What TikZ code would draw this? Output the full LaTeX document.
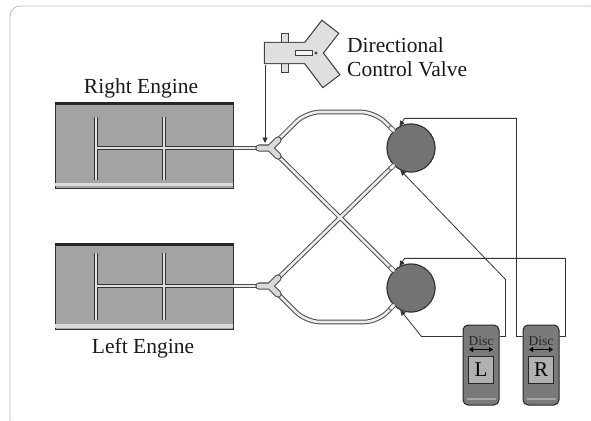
\documentclass[tikz,border=0pt]{standalone}
\usepackage{fontspec}
\setmainfont{Liberation Serif}
\usepackage{tikz}
\usetikzlibrary{arrows.meta,positioning,calc}

\begin{document}
\begin{tikzpicture}[
    x=1pt, y=-1pt,
    >={Triangle[length=5.5pt,width=5pt]},
    label/.style={
        font=\fontsize{21.5}{24}\selectfont,
        text=black!90,
        inner sep=0pt
    },
    engine/.style={
        draw=black!80,
        fill=gray!72,
        line width=0.8pt,
        minimum width=178pt,
        minimum height=86pt,
        inner sep=0pt
    },
    pipe/.style={
        draw=black!70,
        double=gray!15,
        double distance=2.6pt,
        line width=1pt
    },
    manifold/.style={
        draw=black!80,
        double=gray!25,
        double distance=1.8pt,
        line width=1pt
    },
    joint/.style={
        draw=black!70,
        double=gray!30,
        double distance=5pt,
        line width=1.1pt,
        line cap=round
    },
    stub/.style={
        draw=black!60,
        double=gray!8,
        double distance=3pt,
        line width=0.8pt,
        line cap=round
    },
    drum/.style={
        circle,
        draw=black!80,
        fill=black!55,
        line width=1pt,
        minimum size=48pt,
        inner sep=0pt
    },
    valvebody/.style={
        draw=black!75,
        double=gray!25,
        double distance=20pt,
        line width=1.2pt,
        line cap=rect
    },
    discbox/.style={
        draw=black!85,
        fill=black!52,
        rounded corners=5pt,
        line width=1pt,
        minimum width=36pt,
        minimum height=80pt,
        inner sep=0pt
    },
    disckey/.style={
        draw=black!85,
        fill=gray!62,
        line width=0.8pt,
        minimum width=25pt,
        minimum height=27pt,
        inner sep=0pt,
        font=\fontsize{21}{21}\selectfont
    },
    disctext/.style={
        font=\fontsize{13.5}{14}\selectfont,
        text=black!85,
        inner sep=0pt
    },
    wire/.style={draw=black!80, line width=0.8pt}
]

\useasboundingbox (0,0) rectangle (591,420);
\fill[white] (0,0) rectangle (591,420);

% outer frame
\draw[gray!50, line width=0.8pt, rounded corners=10pt] (10,6) rectangle (600,430);

% ============================================================
% Engines
% ============================================================

\node[engine] (reng) at (144,145) {};
\node[engine] (leng) at (144,286.5) {};

\draw[black!85, line width=3pt]
    ([yshift=-1.5pt]reng.north west) -- ([yshift=-1.5pt]reng.north east);
\draw[black!85, line width=3pt]
    ([yshift=-1.5pt]leng.north west) -- ([yshift=-1.5pt]leng.north east);

\fill[gray!30]
    ([shift={(0.6pt,2pt)}]reng.south west) rectangle ([shift={(-0.6pt,5.5pt)}]reng.south east);
\fill[gray!30]
    ([shift={(0.6pt,2pt)}]leng.south west) rectangle ([shift={(-0.6pt,5.5pt)}]leng.south east);

\node[label, anchor=base] (rlabel) at (141,93) {Right Engine};
\node[label, anchor=base] (llabel) at (143,353) {Left Engine};

% ============================================================
% Fuel lines
% ============================================================

\coordinate (ry) at (270,148);
\coordinate (ly) at (270,286);

\node[drum] (upc) at (411,148) {};
\node[drum] (lwc) at (411,288) {};

% manifold inside each engine
\draw[manifold]
    (96,117) -- (96,180)
    (164,117) -- (164,180)
    (96,148) -- (233,148);
\draw[manifold]
    (96,253) -- (96,320)
    (164,253) -- (164,320)
    (96,286) -- (233,286);

% crossfeed lines
\draw[pipe] (233,148) -- (ry);
\draw[pipe] (233,286) -- (ly);
\draw[pipe, rounded corners=14pt]
    (ry) -- (306,112) -- (375,112) -- (upc.135)
    (ry) -- (lwc.135)
    (ly) -- (upc.225)
    (ly) -- (306,322) -- (378,322) -- (lwc.225);

% junctions
\draw[joint] ([xshift=-11pt]ry) -- (ry) -- ++(8,-8) (ry) -- ++(8,8);
\draw[joint] ([xshift=-11pt]ly) -- (ly) -- ++(8,-8) (ly) -- ++(8,8);

\node[drum] at (upc) {};
\node[drum] at (lwc) {};

\draw[stub] (upc.135) -- ++(-3,-3);
\draw[stub] (upc.225) -- ++(-3,3);
\draw[stub] (lwc.135) -- ++(-3,-3);
\draw[stub] (lwc.225) -- ++(-3,3);

% ============================================================
% Directional control valve
% ============================================================

\draw[black!75, fill=gray!25, line width=0.9pt] (281,33) rectangle (288,72);
\draw[valvebody]
    (275,53) -- (310,53) -- (323.8,35.2)
    (310,53) -- (324.9,72.7);
\draw[black!75, fill=gray!8, line width=0.8pt] (295,50.5) rectangle (312,55.5);
\fill[black!75] (316,53) circle (1.6);

\node[label, anchor=north west, align=left] (dcvlabel) at (347,37)
    {Directional\\Control Valve};

\coordinate (dcv) at (265,65);
\draw[wire, ->] (dcv) -- ([xshift=-5pt,yshift=5pt]ry);

% ============================================================
% Disconnect switches
% ============================================================

\node[discbox] (discL) at (481,365) {};
\node[discbox] (discR) at (541,365) {};

\node[disctext] (discLtxt) at ([yshift=-17pt]discL.north) {Disc};
\node[disctext] (discRtxt) at ([yshift=-17pt]discR.north) {Disc};

\draw[<->, black, line width=1pt, >={Triangle[length=4pt,width=5pt]}]
    ([shift={(-12pt,-25pt)}]discL.north) -- ([shift={(12pt,-25pt)}]discL.north);
\draw[<->, black, line width=1pt, >={Triangle[length=4pt,width=5pt]}]
    ([shift={(-12pt,-25pt)}]discR.north) -- ([shift={(12pt,-25pt)}]discR.north);

\node[disckey] (keyL) at ([yshift=-5pt]discL.center) {L};
\node[disckey] (keyR) at ([yshift=-5pt]discR.center) {R};

\draw[gray!70, line width=2pt]
    ([shift={(4pt,7pt)}]discL.south west) -- ([shift={(-4pt,7pt)}]discL.south east);
\draw[gray!70, line width=2pt]
    ([shift={(4pt,7pt)}]discR.south west) -- ([shift={(-4pt,7pt)}]discR.south east);

% switch wiring
\draw[wire, ->]
    ([yshift=-12pt]discR.north west) -- ++(-6,0)
    |- ($(upc.118)+(5,-8)$) -- (upc.118);
\draw[wire, ->]
    ([yshift=-12pt]discR.north east) -- ++(6,0)
    |- ($(lwc.118)+(5,-8)$) -- (lwc.118);
\draw[wire, ->]
    ([yshift=-12pt]discL.north east) -- ++(6,0)
    -- ++(0,-57) -- (upc.244);
\draw[wire, ->]
    ([yshift=-12pt]discL.north west) -- ++(-41,0) -- (lwc.244);

\end{tikzpicture}
\end{document}
